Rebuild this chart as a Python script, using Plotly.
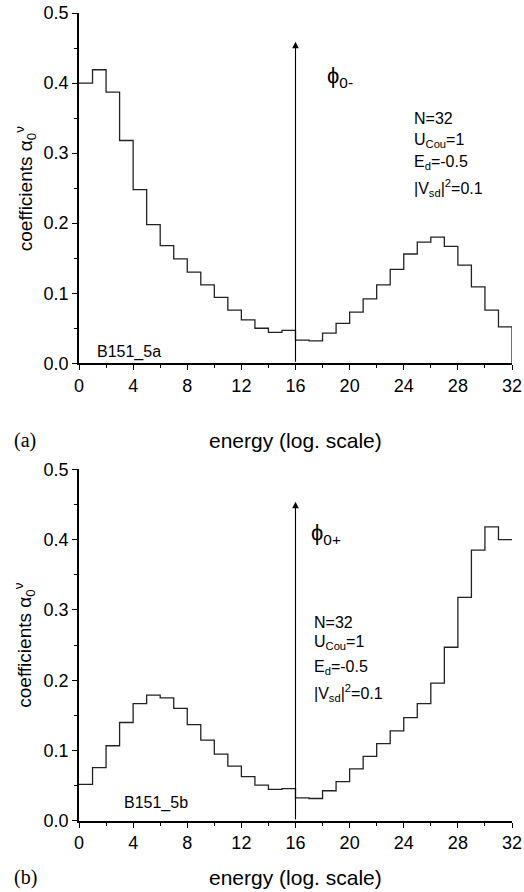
import numpy as np
import plotly.graph_objects as go

# ---- data ----
bins = list(range(33))  # bin edges 0..32 (energy index, log scale)
coef_a = [0.400, 0.419, 0.387, 0.318, 0.248, 0.198, 0.168, 0.149, 0.130, 0.112,
          0.094, 0.076, 0.062, 0.050, 0.044, 0.047, 0.033, 0.032, 0.043, 0.057,
          0.073, 0.092, 0.112, 0.134, 0.156, 0.173, 0.180, 0.167, 0.140, 0.109,
          0.076, 0.052]
coef_b = [0.052, 0.076, 0.107, 0.140, 0.167, 0.179, 0.175, 0.160, 0.137, 0.115,
          0.095, 0.078, 0.063, 0.051, 0.045, 0.046, 0.033, 0.032, 0.043, 0.056,
          0.074, 0.092, 0.110, 0.128, 0.147, 0.167, 0.196, 0.247, 0.318, 0.385,
          0.418, 0.400]
x_ticks = [0, 4, 8, 12, 16, 20, 24, 28, 32]
y_ticks = [0.0, 0.1, 0.2, 0.3, 0.4, 0.5]
params = ["N=32", "U<sub>Cou</sub>=1", "E<sub>d</sub>=-0.5", "|V<sub>sd</sub>|<sup>2</sup>=0.1"]

FONT = "Arial, Liberation Sans, sans-serif"
LINE = "#222222"

fig = go.Figure()

# panel (a): step curve, dropping to zero at the right edge
xa = bins + [bins[-1]]
ya = coef_a + [coef_a[-1], 0.0]
fig.add_trace(go.Scatter(x=xa, y=ya, mode="lines", line=dict(shape="hv", color=LINE, width=1.3),
                         xaxis="x", yaxis="y", showlegend=False, hoverinfo="skip", cliponaxis=False))
# panel (b)
xb = bins
yb = coef_b + [coef_b[-1]]
fig.add_trace(go.Scatter(x=xb, y=yb, mode="lines", line=dict(shape="hv", color=LINE, width=1.3),
                         xaxis="x2", yaxis="y2", showlegend=False, hoverinfo="skip", cliponaxis=False))

ax_common = dict(
    showline=True, linecolor="black", linewidth=1.6, mirror=False, automargin=False,
    showgrid=False, zeroline=False, ticks="outside", ticklen=5, tickwidth=1.4,
    tickcolor="black", tickfont=dict(family=FONT, size=18, color="black"),
)
xcommon = dict(ax_common, range=[0, 32], tickvals=x_ticks,
               minor=dict(ticks="outside", ticklen=3, tickwidth=1.2, tickcolor="black", dtick=2, tick0=0))
ycommon = dict(ax_common, range=[0, 0.5], tickvals=y_ticks, tickformat=".1f",
               minor=dict(ticks="outside", ticklen=3, tickwidth=1.2, tickcolor="black", dtick=0.05, tick0=0))

fig.update_layout(
    width=524, height=892,
    margin=dict(l=79, r=12, t=13, b=71, autoexpand=False),
    paper_bgcolor="white", plot_bgcolor="white",
    xaxis=dict(xcommon, domain=[0, 1], anchor="y"),
    yaxis=dict(ycommon, domain=[0.5665, 1.0], anchor="x"),
    xaxis2=dict(xcommon, domain=[0, 1], anchor="y2"),
    yaxis2=dict(ycommon, domain=[0.0, 0.4353], anchor="x2"),
)

ann = []
# vertical arrows at the middle of the spectrum
for xr, yr, top in [("x", "y", 0.459), ("x2", "y2", 0.454)]:
    ann.append(dict(x=16, y=top, ax=16, ay=0, xref=xr, yref=yr, axref=xr, ayref=yr,
                    text="", showarrow=True, arrowhead=2, arrowsize=1.2, arrowwidth=1.1,
                    arrowcolor="black"))

# state labels
ann.append(dict(x=18.2, y=0.408, xref="x", yref="y", xanchor="left", yanchor="middle",
                text="ϕ<sub>0-</sub>", showarrow=False, font=dict(family=FONT, size=22, color="black")))
ann.append(dict(x=17.0, y=0.408, xref="x2", yref="y2", xanchor="left", yanchor="middle",
                text="ϕ<sub>0+</sub>", showarrow=False, font=dict(family=FONT, size=22, color="black")))

# parameter blocks
for txt, yv in zip(params, [0.349, 0.318, 0.287, 0.250]):
    ann.append(dict(x=24.6, y=yv, xref="x", yref="y", xanchor="left", yanchor="middle",
                    text=txt, showarrow=False, font=dict(family=FONT, size=16, color="black")))
for txt, yv in zip(params, [0.282, 0.254, 0.218, 0.182]):
    ann.append(dict(x=17.2, y=yv, xref="x2", yref="y2", xanchor="left", yanchor="middle",
                    text=txt, showarrow=False, font=dict(family=FONT, size=16, color="black")))

# file ids
ann.append(dict(x=1.2, y=0.016, xref="x", yref="y", xanchor="left", yanchor="middle",
                text="B151_5a", showarrow=False, font=dict(family=FONT, size=16, color="black")))
ann.append(dict(x=3.2, y=0.026, xref="x2", yref="y2", xanchor="left", yanchor="middle",
                text="B151_5b", showarrow=False, font=dict(family=FONT, size=16, color="black")))

# axis titles
for yv in [0.4715, -0.0705]:
    ann.append(dict(x=0.5, y=yv, xref="paper", yref="paper", xanchor="center", yanchor="middle",
                    text="energy (log. scale)", showarrow=False,
                    font=dict(family=FONT, size=21, color="black")))
for yv in [0.783, 0.218]:
    ann.append(dict(x=-0.125, y=yv, xref="paper", yref="paper", xanchor="center", yanchor="middle",
                    text="coefficients α<sub>0</sub><sup>ν</sup>", textangle=-90, showarrow=False,
                    font=dict(family=FONT, size=19, color="black")))
# panel letters
for txt, yv in [("(a)", 0.4715), ("(b)", -0.0705)]:
    ann.append(dict(x=-0.155, y=yv, xref="paper", yref="paper", xanchor="left", yanchor="middle",
                    text=txt, showarrow=False,
                    font=dict(family="Liberation Serif, Times New Roman, serif", size=20, color="black")))

fig.update_layout(annotations=ann)
fig.write_html("out.html", config={"displayModeBar": False},
               post_script="document.body.style.margin='0';document.body.style.overflow='hidden';")
